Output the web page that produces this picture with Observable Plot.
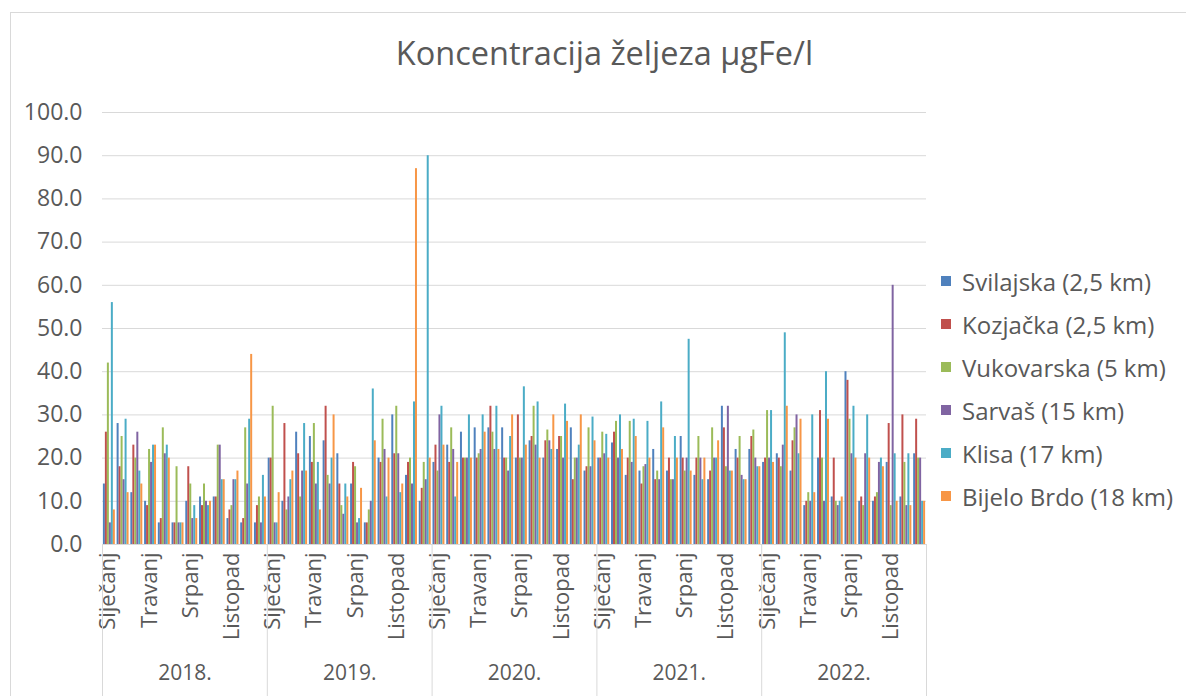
<!DOCTYPE html>
<html><head><meta charset="utf-8">
<script src="https://cdn.jsdelivr.net/npm/d3@7"></script>
<script src="https://cdn.jsdelivr.net/npm/@observablehq/plot@0.6"></script>
<style>
body{margin:0;background:#fff;font-family:"Open Sans",sans-serif;}
#wrap{position:relative;width:1186px;height:696px;overflow:hidden;background:#fff}
#border{position:absolute;left:10px;top:12px;width:1200px;height:700px;border:1px solid #d9d9d9;box-sizing:border-box}
#title{position:absolute;left:0;top:30px;width:1209px;text-align:center;font-size:32.5px;color:#595959;font-weight:400;white-space:nowrap}
#chart{position:absolute;left:0;top:0}
.item{position:absolute;left:941px;white-space:nowrap;font-size:24px;color:#595959;display:flex;align-items:center;height:34px}
.sw{width:10px;height:10px;margin-right:11px;flex:none}
</style></head><body>
<div id="wrap">
<div id="border"></div>
<div id="chart"></div>
<div id="title">Koncentracija željeza μgFe/l</div>
<div id="legend"></div>
</div>
<script>
const years = ["2018", "2019", "2020", "2021", "2022"];
const months = ["Siječanj","Veljača","Ožujak","Travanj","Svibanj","Lipanj","Srpanj","Kolovoz","Rujan","Listopad","Studeni","Prosinac"];
const seriesNames = ["Svilajska (2,5 km)","Kozjačka (2,5 km)","Vukovarska (5 km)","Sarvaš (15 km)","Klisa (17 km)","Bijelo Brdo (18 km)"];
const seriesColors = ["#4F81BD","#C0504D","#9BBB59","#8064A2","#4BACC6","#F79646"];
const yTicks = [0,10,20,30,40,50,60,70,80,90,100];

const svilajska = [
  14,28,12,10,5,5,10,11,11,6,5,5,
  20,10,26,25,24,21,14,5,20,30,16,10,
  19,23,26,27,27,27,20,24,20,22,27,17,
  20,23.5,16,17,22,17,25,16,15,32,22,22,
  19,21,17,9,20,11,40,10,10,19,11,21];
const kozjacka = [
  26,18,23,9,6,5,18,9,11,8,6,9,
  20,28,21,19,32,14,19,5,19,21,19,13,
  23,19,20,20,32,20,30,25,24,25,15,18,
  20,26,20,14,15,20,20,20,17,27,20,25,
  20,20,24,10,31,20,38,11,11,28,30,29];
const vukovarska = [
  42,25,20,22,27,18,14,14,23,9,27,11,
  32,8,11,28,16,9,18,8,29,32,20,19,
  17,27,20,21,26,20,20,32,26.5,25,20,27,
  26,28.5,28.5,18,17,15,17,25,27,18,25,26.5,
  31,18,27,12,20,10,29,9,12,9,19,20];
const sarvas = [
  5,15,26,19,21,5,6,10,23,15,14,5,
  5,11,17,14,14,7,5,10,22,21,14,15,
  30,22,20,22,22,17,20,23,24,20,20,18,
  21,20,19,18.5,15,15,20,20,20,32,16,20,
  20,23,30,10,10,9,21,21,19,60,9,20];
const klisa = [
  56,29,17,23,23,5,9,9,15,15,29,16,
  5,15,28,19,20,14,6,36,11,12,33,90,
  32,11,30,30,32,25,36.5,33,22,32.5,23,29.5,
  25.5,30,29,28.5,33,25,47.5,15,20,17,15,18,
  31,49,21,30,40,10,32,30,20,21,21,10];
const bijeloBrdo = [
  8,12,14,23,20,5,6,10,15,17,44,11,
  12,17,17,8,30,11,13,24,20,14,87,20,
  23,19,20,26,22,30,23,20,30,28.5,30,24,
  20,22,25,20,27,20,17,20,24,17,15,18,
  19,32,29,12,29,11,20,20,18,10,9,10];
const seriesValues = [svilajska, kozjacka, vukovarska, sarvas, klisa, bijeloBrdo];

// build table
const keys = [];
years.forEach(y => months.forEach((m, i) => keys.push(y + "|" + i)));
const rows = [];
seriesNames.forEach((s, si) => seriesValues[si].forEach((v, k) => rows.push({key: keys[k], series: s, value: v})));
const monthLabels = [];
years.forEach(y => months.forEach((m, i) => { if (i % 3 === 0) monthLabels.push({key: y + "|" + i, label: m}); }));

const W = 1186, H = 696;
const ML = 102, plotRight = 926, MR = W - plotRight;
const MT = 112, MB = H - 544;
const pIn = 0.13, pOut = 0.065;
const step = (plotRight - ML) / (keys.length - pIn + 2 * pOut);
const bw = step * (1 - pIn);
const sub = bw / seriesNames.length;
const grey = "#595959";

const marks = [
  Plot.gridY(yTicks, {stroke: "#d9d9d9", strokeOpacity: 1}),
  Plot.axisY(yTicks, {tickSize: 0, tickPadding: 20, tickFormat: d3.format(".1f"), fontSize: 23, fill: grey, label: null}),
  ...seriesNames.map((s, i) => Plot.barY(rows.filter(d => d.series === s), {
    x: "key", y: "value", fill: "series", insetLeft: i * sub, insetRight: (seriesNames.length - 1 - i) * sub
  })),
  Plot.text(monthLabels, {x: "key", text: "label", frameAnchor: "bottom", rotate: -90, textAnchor: "end", dx: 6, dy: 8, fontSize: 22, fill: grey}),
  Plot.text(years, {x: y => y + "|6", text: y => y + ".", frameAnchor: "bottom", dx: -step / 2, dy: 135, fontSize: 21, fill: grey}),
  Plot.ruleX(years, {x: y => y + "|0", dx: -step / 2, stroke: "#d9d9d9", insetTop: 544 - MT, insetBottom: -(H - 544)}),
  Plot.ruleX([years[years.length - 1] + "|11"], {x: d => d, dx: step / 2, stroke: "#d9d9d9", insetTop: 544 - MT, insetBottom: -(H - 544)})
];

const plot = Plot.plot({
  width: W, height: H,
  marginLeft: ML, marginRight: MR, marginTop: MT, marginBottom: MB,
  style: {fontFamily: "'Open Sans', sans-serif", overflow: "visible", background: "transparent"},
  x: {type: "band", domain: keys, paddingInner: pIn, paddingOuter: pOut, axis: null},
  y: {domain: [0, 100], axis: null},
  color: {domain: seriesNames, range: seriesColors},
  marks
});
document.getElementById("chart").appendChild(plot);

// legend
const legend = document.getElementById("legend");
const centers = [281, 324, 367, 410, 453, 496];
seriesNames.forEach((s, i) => {
  const it = document.createElement("div");
  it.className = "item";
  it.style.top = (centers[i] - 17) + "px";
  const sw = document.createElement("span");
  sw.className = "sw";
  sw.style.background = plot.scale("color").apply(s);
  const tx = document.createElement("span");
  tx.textContent = s;
  it.appendChild(sw); it.appendChild(tx);
  legend.appendChild(it);
});
</script>
</body></html>
